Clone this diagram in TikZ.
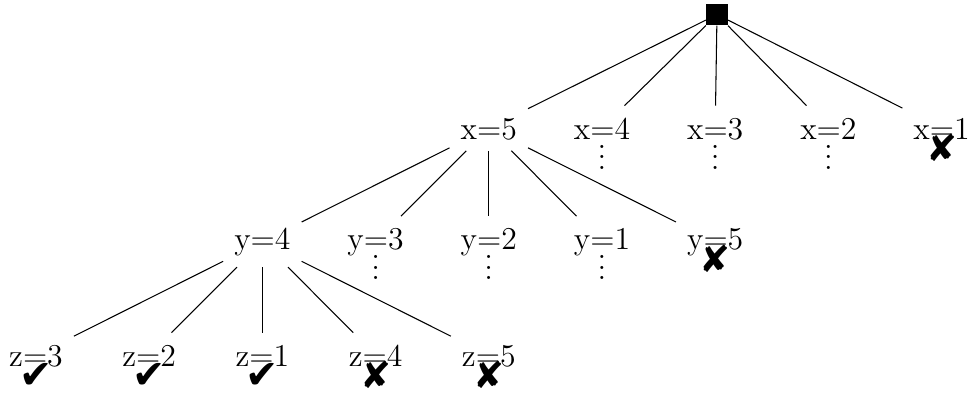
\documentclass[tikz,border=0pt,12pt]{standalone}
\usepackage{fontspec}
\newfontfamily\markfont{DejaVu Sans}
\usetikzlibrary{positioning}
\newcommand{\okmark}{{\fontsize{15}{15}\markfont ✔}}
\newcommand{\nomark}{{\fontsize{14}{14}\markfont ✘}}

\begin{document}
\begin{tikzpicture}[x=0.3774pt, y=-0.3774pt,
   val/.style={anchor=base, text height=8.4pt},
   mk/.style={anchor=base, inner sep=0pt},
   top/.style={fill=black, minimum size=8pt, inner sep=0pt}]
  \useasboundingbox (0,0) rectangle (972,392);
  \node[top] (r) at (717,14.5) {};
  % first choice
  \node[val] (x5) at (488.8,139) {x=5};
  \node[val] (x4) at (602,139) {x=4};
  \node[val] (x3) at (715.2,139) {x=3};
  \node[val] (x2) at (828.4,139) {x=2};
  \node[val] (x1) at (941.6,139) {x=1};
  % second choice
  \node[val] (y4) at (262.4,249.5) {y=4};
  \node[val] (y3) at (375.6,249.5) {y=3};
  \node[val] (y2) at (488.8,249.5) {y=2};
  \node[val] (y1) at (602,249.5) {y=1};
  \node[val] (y5) at (715.2,249.5) {y=5};
  % third choice
  \node[val] (z3) at (36,366) {z=3};
  \node[val] (z2) at (149.2,366) {z=2};
  \node[val] (z1) at (262.4,366) {z=1};
  \node[val] (z4) at (375.6,366) {z=4};
  \node[val] (z5) at (488.8,366) {z=5};
  % dots and marks
  \node[mk] (d4) at ([yshift=-11.5pt]x4.base) {$\vdots$};
  \node[mk] (d3) at ([yshift=-11.5pt]x3.base) {$\vdots$};
  \node[mk] (d2) at ([yshift=-11.5pt]x2.base) {$\vdots$};
  \node[mk] (e3) at ([yshift=-11.5pt]y3.base) {$\vdots$};
  \node[mk] (e2) at ([yshift=-11.5pt]y2.base) {$\vdots$};
  \node[mk] (e1) at ([yshift=-11.5pt]y1.base) {$\vdots$};
  \node[mk] (m1) at ([yshift=-8.6pt]x1.base) {\nomark};
  \node[mk] (m5) at ([yshift=-8.6pt]y5.base) {\nomark};
  \node[mk] (n3) at ([yshift=-8.6pt]z3.base) {\okmark};
  \node[mk] (n2) at ([yshift=-8.6pt]z2.base) {\okmark};
  \node[mk] (n1) at ([yshift=-8.6pt]z1.base) {\okmark};
  \node[mk] (n4) at ([yshift=-8.6pt]z4.base) {\nomark};
  \node[mk] (n5) at ([yshift=-8.6pt]z5.base) {\nomark};
  \draw (r)--(x5); \draw (r)--(x4); \draw (r)--(x3); \draw (r)--(x2); \draw (r)--(x1);
  \draw (x5)--(y4); \draw (x5)--(y3); \draw (x5)--(y2); \draw (x5)--(y1); \draw (x5)--(y5);
  \draw (y4)--(z3); \draw (y4)--(z2); \draw (y4)--(z1); \draw (y4)--(z4); \draw (y4)--(z5);
\end{tikzpicture}
\end{document}
